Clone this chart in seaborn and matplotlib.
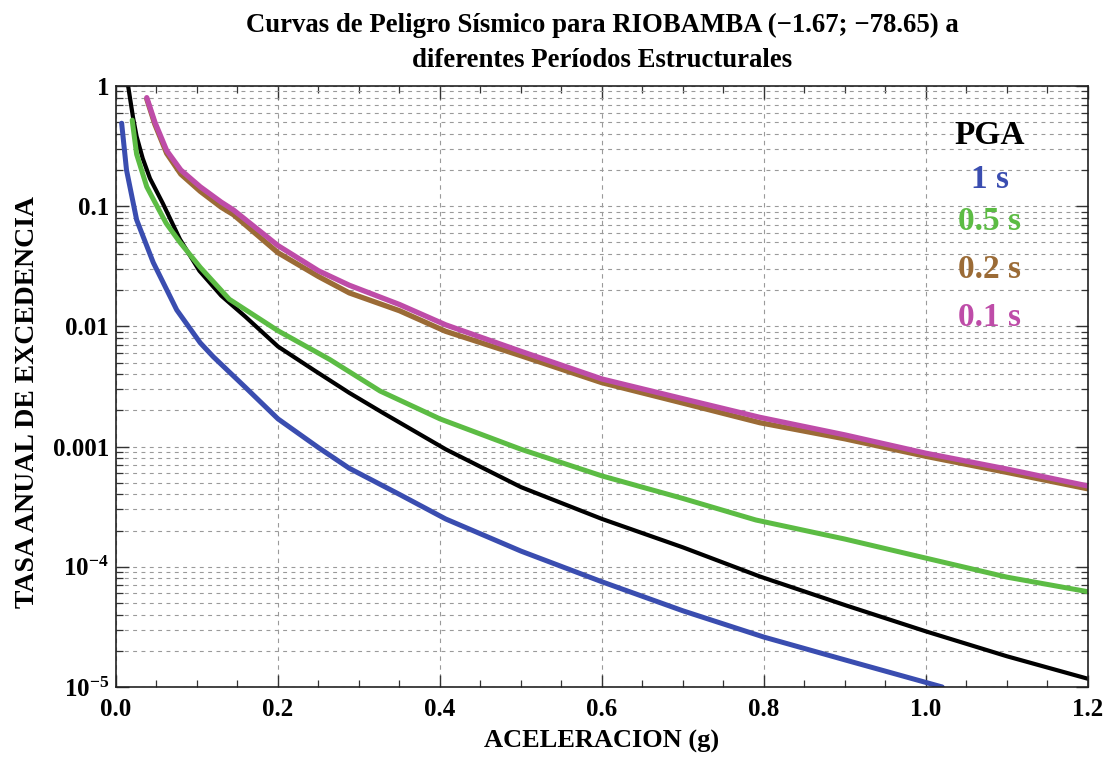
import numpy as np
import pandas as pd
import matplotlib
matplotlib.use("Agg")
import matplotlib.pyplot as plt
import matplotlib.ticker as mticker
import seaborn as sns

# ---------------- data ----------------
series_names = ["PGA", "1 s", "0.5 s", "0.2 s", "0.1 s"]

pga_x = [0.015, 0.021, 0.0255, 0.033, 0.042, 0.058, 0.079, 0.103, 0.13, 0.16, 0.200, 0.245, 0.288, 0.33, 0.407,
         0.50, 0.60, 0.70, 0.795, 0.90, 1.00, 1.10, 1.20]
pga_y = [1.0, 0.55, 0.38, 0.25, 0.17, 0.105, 0.053, 0.029, 0.018, 0.012, 0.0068, 0.0043, 0.0028, 0.0019, 9.5e-4,
         4.6e-4, 2.5e-4, 1.45e-4, 8.3e-5, 4.8e-5, 2.9e-5, 1.8e-5, 1.17e-5]

s1_x = [0.007, 0.013, 0.0255, 0.046, 0.075, 0.104, 0.12, 0.16, 0.20, 0.25, 0.288, 0.35, 0.407, 0.50, 0.60,
        0.70, 0.80, 0.90, 1.02]
s1_y = [0.49, 0.20, 0.077, 0.034, 0.0137, 0.0073, 0.0056, 0.0031, 0.0017, 9.8e-4, 6.6e-4, 4.0e-4, 2.5e-4, 1.35e-4,
        7.5e-5, 4.3e-5, 2.6e-5, 1.68e-5, 1.0e-5]

s05_x = [0.020, 0.0255, 0.038, 0.049, 0.062, 0.079, 0.104, 0.14, 0.20, 0.264, 0.326, 0.40, 0.50, 0.60, 0.70,
         0.79, 0.90, 1.00, 1.10, 1.20]
s05_y = [0.52, 0.27, 0.145, 0.105, 0.072, 0.050, 0.031, 0.0168, 0.0092, 0.0053, 0.0029, 0.0017, 9.5e-4, 5.7e-4,
         3.7e-4, 2.45e-4, 1.7e-4, 1.18e-4, 8.2e-5, 6.2e-5]

s02_x = [0.038, 0.048, 0.0626, 0.08, 0.104, 0.13, 0.145, 0.20, 0.25, 0.288, 0.35, 0.407, 0.50, 0.60, 0.70,
         0.795, 0.90, 1.00, 1.10, 1.20]
s02_y = [0.78, 0.48, 0.275, 0.185, 0.133, 0.098, 0.085, 0.041, 0.026, 0.019, 0.0135, 0.0091, 0.0057, 0.0034,
         0.0023, 0.00158, 0.00116, 8.3e-4, 6.1e-4, 4.45e-4]

s01_x = [0.038, 0.048, 0.0626, 0.08, 0.104, 0.13, 0.145, 0.20, 0.25, 0.288, 0.35, 0.407, 0.50, 0.60, 0.70,
         0.795, 0.90, 1.00, 1.10, 1.20]
s01_y = [0.80, 0.50, 0.29, 0.20, 0.145, 0.108, 0.093, 0.047, 0.029, 0.022, 0.0152, 0.0103, 0.0062, 0.00365,
         0.0025, 0.00175, 0.00125, 8.8e-4, 6.5e-4, 4.7e-4]

series_x = [pga_x, s1_x, s05_x, s02_x, s01_x]
series_y = [pga_y, s1_y, s05_y, s02_y, s01_y]
colors = ["#000000", "#3A4DB0", "#5CBC44", "#9B6B36", "#BE4CA8"]
widths = [3.0, 3.6, 3.6, 3.8, 3.8]

yticks = [1, 0.1, 0.01, 0.001, 1e-4, 1e-5]
ytick_labels = ["1", "0.1", "0.01", "0.001", r"$\mathbf{10^{-4}}$", r"$\mathbf{10^{-5}}$"]
xticks = [0.0, 0.2, 0.4, 0.6, 0.8, 1.0, 1.2]
xtick_labels = ["0.0", "0.2", "0.4", "0.6", "0.8", "1.0", "1.2"]

title = "Curvas de Peligro Sísmico para RIOBAMBA (\u22121.67; \u221278.65) a\ndiferentes Períodos Estructurales"
xlabel = "ACELERACION (g)"
ylabel = "TASA ANUAL DE EXCEDENCIA"

# ---------------- style ----------------
sns.set_theme(style="ticks")
plt.rcParams["font.family"] = ["Liberation Serif", "DejaVu Serif"]
plt.rcParams["mathtext.fontset"] = "custom"
plt.rcParams["mathtext.rm"] = "Liberation Serif"
plt.rcParams["mathtext.bf"] = "Liberation Serif:bold"
plt.rcParams["axes.unicode_minus"] = True
plt.rcParams["text.color"] = "black"
plt.rcParams["axes.labelcolor"] = "black"

rows = []
for name, xs, ys in zip(series_names, series_x, series_y):
    for xv, yv in zip(xs, ys):
        rows.append({"serie": name, "x": xv, "y": yv})
df = pd.DataFrame(rows)

fig = plt.figure(figsize=(11.12, 7.57), dpi=100)
ax = fig.add_axes([0.1043, 0.0925, 0.8741, 0.7939])

ax.set_yscale("log")
ax.set_xlim(0, 1.2)
ax.set_ylim(1e-5, 1)

ax.yaxis.set_major_locator(mticker.FixedLocator(yticks))
ax.yaxis.set_major_formatter(mticker.FixedFormatter(ytick_labels))
ax.yaxis.set_minor_locator(mticker.LogLocator(base=10, subs=np.arange(2, 10)))
ax.yaxis.set_minor_formatter(mticker.NullFormatter())
ax.xaxis.set_major_locator(mticker.FixedLocator(xticks))
ax.xaxis.set_major_formatter(mticker.FixedFormatter(xtick_labels))
ax.xaxis.set_minor_locator(mticker.MultipleLocator(0.05))

ax.grid(True, which="both", axis="y", linestyle=(0, (3.5, 4)), color="#9a9a9a", linewidth=0.8)
ax.grid(True, which="major", axis="x", linestyle=(0, (4, 4)), color="#9a9a9a", linewidth=0.8)
ax.set_axisbelow(True)

for name, c, w in zip(series_names, colors, widths):
    sub = df[df["serie"] == name]
    sns.lineplot(data=sub, x="x", y="y", ax=ax, color=c, linewidth=w,
                 estimator=None, sort=False, legend=False)

ax.tick_params(which="both", direction="in", top=True, right=True, colors="#333333")
ax.tick_params(which="major", length=9, width=1.0)
ax.tick_params(which="minor", length=5, width=0.9)
for lab in ax.get_xticklabels() + ax.get_yticklabels():
    lab.set_fontweight("bold")
    lab.set_fontsize(18)
    lab.set_color("black")
ax.tick_params(axis="x", pad=8)
ax.tick_params(axis="y", pad=5)
for sp in ax.spines.values():
    sp.set_color("#222222")
    sp.set_linewidth(1.2)
    sp.set_visible(True)

ax.set_xlabel(xlabel, fontsize=19, fontweight="bold", labelpad=6, color="black")
ax.set_ylabel(ylabel, fontsize=20, fontweight="bold", labelpad=9, color="black")
ax.yaxis.label.set_y(0.474)
ax.set_title(title, fontsize=19.3, fontweight="bold", pad=14, linespacing=1.5, color="black")

# legend texts
leg_y = [0.917, 0.845, 0.774, 0.694, 0.614]
for name, c, yy in zip(series_names, colors, leg_y):
    ax.text(0.899, yy, name, transform=ax.transAxes, ha="center", va="center",
            fontsize=24, fontweight="bold", color=c)

fig.savefig("out.png", dpi=100)
